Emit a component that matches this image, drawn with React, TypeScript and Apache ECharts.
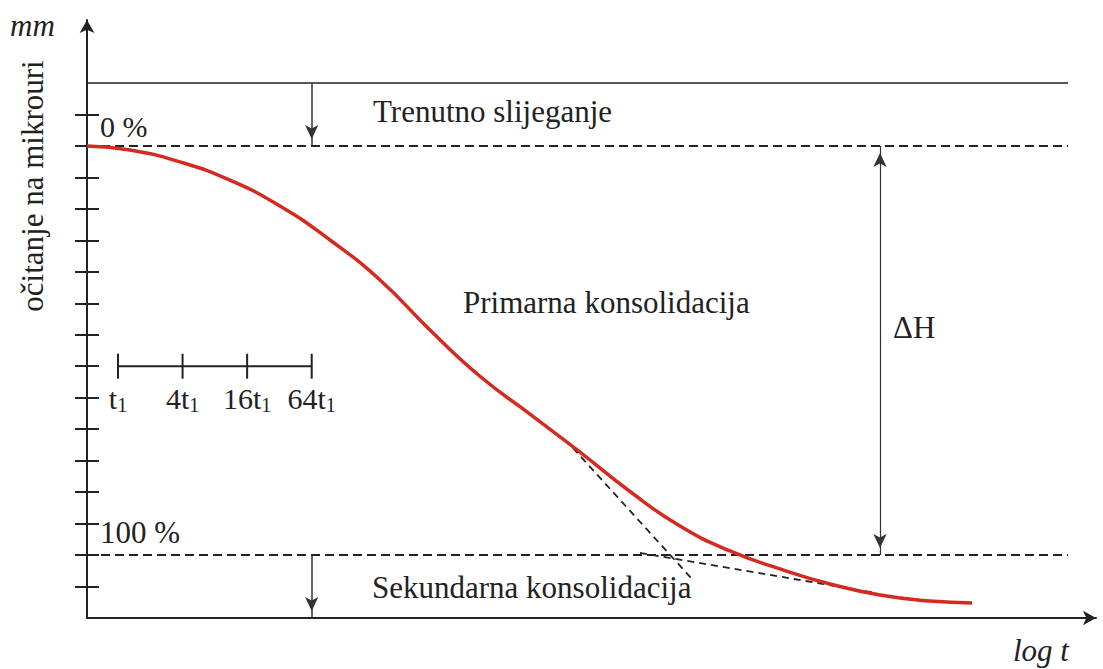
import React, { useEffect, useRef } from "react";
import * as echarts from "echarts";

// ---- data (x = log10(t / t1), y = dial reading in tick units) ----
const curveLogT = [-0.289, 0.112, 0.578, 1.044, 1.51, 1.977, 2.443, 2.909, 3.375, 3.841, 4.308, 4.774, 5.24, 5.706, 6.172, 6.639, 7.105, 7.571, 7.963];
const curveReading = [15.0, 14.87, 14.49, 13.91, 13.09, 12.01, 10.74, 9.15, 7.68, 6.48, 5.27, 4.02, 2.92, 2.13, 1.56, 1.08, 0.73, 0.54, 0.48];

const tangentPrimary = [[4.242, 5.4], [5.352, 1.24]];
const tangentSecondary = [[4.867, 2.07], [7.077, 0.79]];

const yTickValues = [1, 2, 3, 4, 5, 6, 7, 8, 9, 10, 11, 12, 13, 14, 15, 16];
const readingInitial = 17; // solid top line
const reading0 = 15; // 0 %
const reading100 = 2; // 100 %

const scaleFactors = [1, 4, 16, 64];
const scaleBarReading = 8;

const axisMinLogT = -0.289;
const axisMaxLogT = 9.119;
const guideEndLogT = 8.858;
const deltaHLogT = 7.105;
const yMin = 0;
const yMax = 19;

const INK = "#222";
const SERIF = "Liberation Serif";

export default function App() {
  const ref = useRef<HTMLDivElement>(null);

  useEffect(() => {
    if (!ref.current) return;
    const chart = echarts.init(ref.current, undefined, { renderer: "svg" });

    const arrowX = Math.log10(64);
    const dash = [9, 5];
    const arrowSize = [10, 14];

    const txt = (text: string, x: number, y: number, extra: any = {}) => ({
      type: "text",
      x,
      y,
      ...(extra.rotation !== undefined ? { rotation: extra.rotation } : {}),
      style: {
        text,
        fontFamily: SERIF,
        fontSize: extra.fontSize || 31,
        fontStyle: extra.italic ? "italic" : "normal",
        fill: INK,
        align: extra.align || "left",
        verticalAlign: "middle",
      },
    });

    const option: any = {
      animation: false,
      textStyle: { fontFamily: SERIF },
      grid: { left: 87, right: 7, top: 20, bottom: 51 },
      xAxis: {
        type: "value",
        min: axisMinLogT,
        max: axisMaxLogT,
        axisLine: {
          show: true,
          onZero: false,
          symbol: ["none", "arrow"],
          symbolSize: [11, 13],
          lineStyle: { color: INK, width: 2 },
        },
        axisTick: { show: false },
        axisLabel: { show: false },
        splitLine: { show: false },
      },
      yAxis: [
        {
          type: "value",
          min: yMin,
          max: yMax,
          position: "left",
          axisLine: {
            show: true,
            onZero: false,
            symbol: ["none", "arrow"],
            symbolSize: [11, 13],
            lineStyle: { color: INK, width: 2 },
          },
          axisTick: {
            show: true,
            inside: false,
            length: 12,
            customValues: yTickValues,
            lineStyle: { color: INK, width: 2 },
          },
          axisLabel: { show: false },
          splitLine: { show: false },
        },
        {
          type: "value",
          min: yMin,
          max: yMax,
          position: "left",
          offset: 0,
          axisLine: { show: false, onZero: false },
          axisTick: {
            show: true,
            inside: true,
            length: 12,
            customValues: yTickValues,
            lineStyle: { color: INK, width: 2 },
          },
          axisLabel: { show: false },
          splitLine: { show: false },
        },
      ],
      series: [
        {
          type: "line",
          name: "curve",
          data: curveLogT.map((x, i) => [x, curveReading[i]]),
          smooth: 0.5,
          showSymbol: false,
          lineStyle: { color: "#d42a22", width: 3.5 },
          z: 5,
          silent: true,
          markLine: {
            silent: true,
            symbol: ["none", "none"],
            label: { show: false },
            emphasis: { disabled: true },
            data: [
              [
                { coord: [axisMinLogT, readingInitial], lineStyle: { type: "solid", width: 1.6, color: INK } },
                { coord: [guideEndLogT, readingInitial] },
              ],
              [
                { coord: [axisMinLogT, reading0], lineStyle: { type: dash, width: 2, color: INK } },
                { coord: [guideEndLogT, reading0] },
              ],
              [
                { coord: [axisMinLogT, reading100], lineStyle: { type: dash, width: 2, color: INK } },
                { coord: [guideEndLogT, reading100] },
              ],
              [
                { coord: [arrowX, readingInitial], symbol: "none", lineStyle: { type: "solid", width: 1.5, color: "#333" } },
                { coord: [arrowX, reading0], symbol: "arrow", symbolSize: arrowSize, symbolOffset: [0, 7] },
              ],
              [
                { coord: [arrowX, reading100], symbol: "none", lineStyle: { type: "solid", width: 1.5, color: "#333" } },
                { coord: [arrowX, yMin], symbol: "arrow", symbolSize: arrowSize, symbolOffset: [0, 7] },
              ],
              [
                { coord: [deltaHLogT, reading0], symbol: "arrow", symbolSize: arrowSize, symbolOffset: [0, 7], lineStyle: { type: "solid", width: 1.2, color: "#333" } },
                { coord: [deltaHLogT, reading100], symbol: "arrow", symbolSize: arrowSize, symbolOffset: [0, 7] },
              ],
            ],
          },
        },
        {
          type: "line",
          name: "tangent primary",
          data: tangentPrimary,
          showSymbol: false,
          silent: true,
          lineStyle: { color: INK, width: 1.8, type: [7, 5] },
          z: 4,
        },
        {
          type: "line",
          name: "tangent secondary",
          data: tangentSecondary,
          showSymbol: false,
          silent: true,
          lineStyle: { color: INK, width: 1.8, type: [7, 5] },
          z: 4,
        },
        {
          type: "line",
          name: "scale",
          data: scaleFactors.map((f) => [Math.log10(f), scaleBarReading]),
          symbol: "rect",
          symbolSize: [2, 25],
          showSymbol: true,
          silent: true,
          itemStyle: { color: INK, borderWidth: 0 },
          lineStyle: { color: INK, width: 2 },
          label: {
            show: true,
            position: "bottom",
            distance: 4,
            formatter: (p: any) => {
              const f = scaleFactors[p.dataIndex];
              return `{m|${f === 1 ? "t" : f + "t"}}{s|1}`;
            },
            rich: {
              m: { fontFamily: SERIF, fontSize: 30, lineHeight: 32, color: INK },
              s: { fontFamily: SERIF, fontSize: 20, lineHeight: 16, verticalAlign: "bottom", color: INK },
            },
          },
        },
      ],
      graphic: [
        txt("mm", 10, 25, { italic: true }),
        txt("očitanje na mikrouri", 32, 186, { rotation: Math.PI / 2, align: "center" }),
        txt("0 %", 100, 126, { fontSize: 30 }),
        txt("100 %", 100, 532),
        txt("Trenutno slijeganje", 373, 111),
        txt("Primarna konsolidacija", 463, 302),
        txt("ΔH", 893, 327),
        txt("Sekundarna konsolidacija", 372, 587),
        txt("log t", 1013, 650, { italic: true }),
      ],
    };

    chart.setOption(option);
    return () => chart.dispose();
  }, []);

  return (
    <div
      ref={ref}
      style={{ position: "fixed", left: 0, top: 0, width: 1103, height: 669, background: "#fff" }}
    />
  );
}
